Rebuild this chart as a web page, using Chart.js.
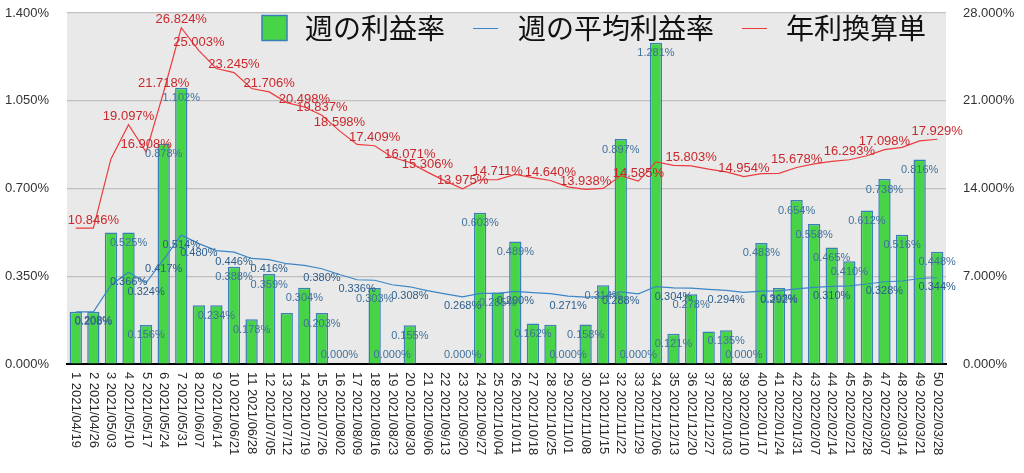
<!DOCTYPE html>
<html>
<head>
<meta charset="utf-8">
<script src="https://cdn.jsdelivr.net/npm/chart.js@4/dist/chart.umd.min.js"></script>
<style>
html,body{margin:0;padding:0;background:#fff;}
canvas{display:block;}
</style>
</head>
<body>
<canvas id="c" width="1024" height="473"></canvas>
<script>
// ---- data ----
const weekNumbers = [1,2,3,4,5,6,7,8,9,10,11,12,13,14,15,16,17,18,19,20,21,22,23,24,25,26,27,28,29,30,31,32,33,34,35,36,37,38,39,40,41,42,43,44,45,46,47,48,49,50];
const weekDates = ["2021/04/19","2021/04/26","2021/05/03","2021/05/10","2021/05/17","2021/05/24","2021/05/31","2021/06/07","2021/06/14","2021/06/21","2021/06/28","2021/07/05","2021/07/12","2021/07/19","2021/07/26","2021/08/02","2021/08/09","2021/08/16","2021/08/23","2021/08/30","2021/09/06","2021/09/13","2021/09/20","2021/09/27","2021/10/04","2021/10/11","2021/10/18","2021/10/25","2021/11/01","2021/11/08","2021/11/15","2021/11/22","2021/11/29","2021/12/06","2021/12/13","2021/12/20","2021/12/27","2022/01/03","2022/01/10","2022/01/17","2022/01/24","2022/01/31","2022/02/07","2022/02/14","2022/02/21","2022/02/28","2022/03/07","2022/03/14","2022/03/21","2022/03/28"];
const weeklyRate = [0.208,0.208,0.525,0.525,0.156,0.878,1.102,0.234,0.234,0.388,0.178,0.359,0.203,0.304,0.203,0,0,0.303,0,0.155,0,0,0,0.603,0.285,0.489,0.162,0.157,0,0.158,0.314,0.897,0,1.281,0.121,0.278,0.130,0.135,0,0.483,0.303,0.654,0.558,0.465,0.410,0.612,0.738,0.516,0.816,0.448];
const avgRate = [0.208,0.208,0.314,0.366,0.324,0.417,0.514,0.480,0.452,0.446,0.421,0.416,0.400,0.393,0.380,0.357,0.336,0.334,0.316,0.308,0.293,0.280,0.268,0.282,0.282,0.290,0.285,0.281,0.271,0.267,0.269,0.288,0.280,0.309,0.304,0.303,0.298,0.294,0.286,0.291,0.292,0.300,0.306,0.310,0.312,0.319,0.328,0.331,0.341,0.344];
const annualRate = [10.846,10.846,16.36,19.097,16.908,21.718,26.824,25.003,23.57,23.245,21.98,21.706,20.85,20.498,19.837,18.598,17.52,17.409,16.49,16.071,15.306,14.61,13.975,14.70,14.711,15.12,14.87,14.640,14.13,13.938,14.01,15.03,14.585,16.12,15.84,15.803,15.55,15.33,14.954,15.19,15.21,15.678,15.97,16.16,16.293,16.61,17.098,17.28,17.80,17.929];
const leftTicks = [0,0.35,0.7,1.05,1.4];
const rightTicks = [0,7,14,21,28];
const seriesNames = ["週の利益率","週の平均利益率","年利換算単"];
// which points carry a value label (week numbers)
const barLabelWeeks = [2,4,5,6,7,9,10,11,12,14,15,16,18,19,20,23,24,25,26,27,29,30,31,32,33,34,35,36,38,39,40,41,42,43,44,45,46,47,48,49,50];
const avgLabelWeeks = [2,4,5,6,7,8,10,12,15,17,20,23,26,29,32,35,38,41,44,47,50];
const annualLabelWeeks = [2,4,5,6,7,8,10,12,14,15,16,18,20,21,23,25,28,30,33,36,39,42,45,47,50];

const categories = weekNumbers.map((n, i) => n + " " + weekDates[i]);

const COL_BAR = '#47d447', COL_BAR_BORDER = '#3a7fb8';
const COL_AVG = '#3a86c6', COL_ANN = '#ec3b3e';
const FONT = '"Liberation Sans", Arial, sans-serif';
const CJK = '"Noto Sans CJK JP", "Noto Sans", sans-serif';

const bgPlugin = {
  id: 'bg',
  beforeDraw(chart) {
    const {ctx, chartArea: a} = chart;
    ctx.save();
    ctx.fillStyle = '#e9e9e9';
    ctx.fillRect(a.left, a.top, a.right - a.left, a.bottom - a.top);
    ctx.restore();
  }
};

const labelsPlugin = {
  id: 'labels',
  afterDatasetsDraw(chart) {
    const {ctx, chartArea: a} = chart;
    const x = chart.scales.x, y = chart.scales.y, y1 = chart.scales.y1;
    ctx.save();
    ctx.textAlign = 'center';
    ctx.textBaseline = 'middle';
    // bar labels
    ctx.font = '11px ' + FONT;
    ctx.fillStyle = '#41719c';
    barLabelWeeks.forEach(w => {
      const i = w - 1;
      const px = x.getPixelForValue(i);
      const top = y.getPixelForValue(weeklyRate[i]);
      const py = Math.min(top + 10.5, a.bottom - 9);
      ctx.fillText(weeklyRate[i].toFixed(3) + '%', px, py);
    });
    // average labels
    ctx.fillStyle = '#2c5d8a';
    avgLabelWeeks.forEach(w => {
      const i = w - 1;
      const px = x.getPixelForValue(i);
      const py = y.getPixelForValue(avgRate[i]) + 9.5;
      ctx.fillText(avgRate[i].toFixed(3) + '%', px, py);
    });
    // annual labels
    ctx.font = '13px ' + FONT;
    ctx.fillStyle = '#c9282c';
    annualLabelWeeks.forEach(w => {
      const i = w - 1;
      const px = x.getPixelForValue(i);
      const py = y1.getPixelForValue(annualRate[i]) - 8;
      ctx.fillText(annualRate[i].toFixed(3) + '%', px, py);
    });
    ctx.restore();
  },
  afterDraw(chart) {
    const {ctx, chartArea: a} = chart;
    const x = chart.scales.x;
    ctx.save();
    // rotated category labels
    ctx.font = '13px ' + FONT;
    ctx.fillStyle = '#2a2a2a';
    ctx.textAlign = 'left';
    ctx.textBaseline = 'middle';
    categories.forEach((c, i) => {
      const px = x.getPixelForValue(i);
      ctx.save();
      ctx.translate(px, a.bottom + 8);
      ctx.rotate(Math.PI / 2);
      ctx.fillText(c, 0, 0);
      ctx.restore();
    });
    // legend
    ctx.font = '28px ' + CJK;
    ctx.textBaseline = 'middle';
    const ly = 28;
    let lx = 262;
    ctx.fillStyle = COL_BAR;
    ctx.strokeStyle = COL_BAR_BORDER;
    ctx.lineWidth = 1.5;
    ctx.fillRect(lx, 15.5, 25, 25);
    ctx.strokeRect(lx, 15.5, 25, 25);
    lx += 25 + 18;
    ctx.fillStyle = '#111';
    ctx.fillText(seriesNames[0], lx, ly);
    lx += ctx.measureText(seriesNames[0]).width + 28;
    ctx.strokeStyle = COL_AVG; ctx.lineWidth = 1;
    ctx.beginPath(); ctx.moveTo(lx, ly + 0.5); ctx.lineTo(lx + 25, ly + 0.5); ctx.stroke();
    lx += 25 + 20;
    ctx.fillText(seriesNames[1], lx, ly);
    lx += ctx.measureText(seriesNames[1]).width + 28;
    ctx.strokeStyle = COL_ANN;
    ctx.beginPath(); ctx.moveTo(lx, ly + 0.5); ctx.lineTo(lx + 25, ly + 0.5); ctx.stroke();
    lx += 25 + 19;
    ctx.fillText(seriesNames[2], lx, ly);
    ctx.restore();
  }
};

new Chart(document.getElementById('c'), {
  type: 'bar',
  data: {
    labels: categories,
    datasets: [
      {
        type: 'bar', label: seriesNames[0], data: weeklyRate, yAxisID: 'y',
        backgroundColor: COL_BAR, borderColor: COL_BAR_BORDER, borderWidth: 1.5,
        categoryPercentage: 1, barPercentage: 0.7, order: 3
      },
      {
        type: 'line', label: seriesNames[1], data: avgRate, yAxisID: 'y',
        borderColor: COL_AVG, borderWidth: 1.2, pointRadius: 0, tension: 0, order: 2
      },
      {
        type: 'line', label: seriesNames[2], data: annualRate, yAxisID: 'y1',
        borderColor: COL_ANN, borderWidth: 1.2, pointRadius: 0, tension: 0, order: 1
      }
    ]
  },
  options: {
    responsive: false,
    animation: false,
    devicePixelRatio: 1,
    layout: { padding: { top: 13, left: 0, right: 0, bottom: 0 } },
    plugins: { legend: { display: false }, tooltip: { enabled: false } },
    scales: {
      x: {
        offset: true,
        grid: { display: false },
        border: { display: true, color: '#000', width: 2 },
        ticks: { display: false },
        afterFit(s) { s.height = 109; s.paddingLeft = 0; s.paddingRight = 0; }
      },
      y: {
        position: 'left', min: 0, max: 1.4,
        afterBuildTicks(s) { s.ticks = leftTicks.map(v => ({ value: v })); },
        grid: { color: '#c0c0c0', lineWidth: 1.2, drawTicks: false },
        border: { display: false },
        ticks: {
          padding: 18, color: '#333', font: { family: FONT, size: 13 },
          callback: v => v.toFixed(3) + '%'
        },
        afterFit(s) { s.width = 67; s.paddingTop = 0; s.paddingBottom = 0; }
      },
      y1: {
        position: 'right', min: 0, max: 28,
        afterBuildTicks(s) { s.ticks = rightTicks.map(v => ({ value: v })); },
        grid: { drawOnChartArea: false, drawTicks: false },
        border: { display: false },
        ticks: {
          padding: 17, color: '#333', font: { family: FONT, size: 13 },
          callback: v => v.toFixed(3) + '%'
        },
        afterFit(s) { s.width = 78; s.paddingTop = 0; s.paddingBottom = 0; }
      }
    }
  },
  plugins: [bgPlugin, labelsPlugin]
});
</script>
</body>
</html>
